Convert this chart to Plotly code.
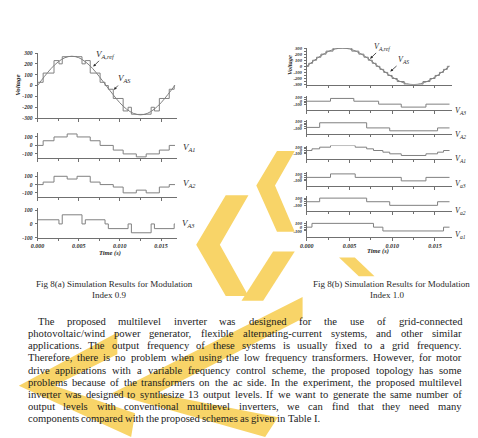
import plotly.graph_objects as go

W, H = 478, 438

# ---------------- data: Fig 8(a), modulation index 0.9 ----------------
ref_time_a = [0.0, 0.00083, 0.00167, 0.0025, 0.00333, 0.00417, 0.005, 0.00583, 0.00667, 0.0075, 0.00833,
              0.00917, 0.01, 0.01083, 0.01167, 0.0125, 0.01333, 0.01417, 0.015, 0.01583, 0.01667]
ref_volt_a = [0, 83, 159, 218, 257, 270, 257, 218, 159, 83, 0,
              -83, -159, -218, -257, -270, -257, -218, -159, -83, 0]
vas_time_a = [0, 0.00068, 0.0020, 0.0026, 0.0030, 0.0036, 0.0048, 0.0054, 0.0058, 0.0064, 0.0076, 0.0082,
              0.0086, 0.0092, 0.0104, 0.0110, 0.0114, 0.0120, 0.0132, 0.0138, 0.0142, 0.0148, 0.0160, 0.0166, 0.0167]
vas_volt_a = [30, 115, 230, 200, 266, 268, 266, 200, 230, 115, 30, 0,
              -34, -119, -234, -200, -264, -266, -264, -200, -234, -119, -34, 0, 0]
v12_time_a = [0, 0.00068, 0.0020, 0.0036, 0.0048, 0.0064, 0.0076, 0.0092, 0.0104, 0.0120, 0.0132, 0.0148, 0.0160, 0.0167]
va1_a = [0, 55, 100, 135, 100, 55, 0, -55, -100, -135, -100, -55, 0, 0]
va2_a = [0, 30, 100, 67, 100, 30, 0, -30, -100, -67, -100, -30, 0, 0]
v3_time_a = [0, 0.0026, 0.0030, 0.0054, 0.0058, 0.0082, 0.0086, 0.0110, 0.0114, 0.0138, 0.0142, 0.0166, 0.0167]
va3_a = [30, 0, 66, 0, 30, 0, -34, 0, -64, 0, -34, 0, 0]

# ---------------- data: Fig 8(b), modulation index 1.0 ----------------
ref_time_b = ref_time_a
ref_volt_b = [0, 93, 176, 243, 285, 300, 285, 243, 176, 93, 0,
              -93, -176, -243, -285, -300, -285, -243, -176, -93, 0]
vas_time_b = [0, 0.00022, 0.00067, 0.00114, 0.00165, 0.00225, 0.00307, 0.00526, 0.00608, 0.00668, 0.00719,
              0.00766, 0.00811, 0.00855, 0.0090, 0.00947, 0.00998, 0.01058, 0.0114, 0.01359, 0.01441, 0.01501,
              0.01552, 0.01599, 0.01644, 0.0167]
vas_volt_b = [0, 50, 100, 150, 200, 250, 300, 250, 200, 150, 100, 50, 0,
              -50, -100, -150, -200, -250, -300, -250, -200, -150, -100, -50, 0, 0]
vA3_time_b = [0, 0.00277, 0.0055, 0.0084, 0.01105, 0.01394, 0.0167]
vA3_b = [0, 80, 0, -85, -170, -85, -85]
vA2_time_b = [0, 0.0015, 0.0070, 0.0097, 0.0153, 0.0167]
vA2_b = [-70, 65, -85, -170, -85, -85]
vA1_time_b = [0, 0.0006, 0.0015, 0.00277, 0.00566, 0.0070, 0.0078, 0.0089, 0.0097, 0.01105, 0.01394, 0.0153, 0.0160, 0.0167]
vA1_b = [0, 50, 100, 150, 100, 50, 0, -50, -100, -150, -100, -50, 0, 0]
va3_time_b = [0, 0.00277, 0.00566, 0.01105, 0.01394, 0.0167]
va3_b = [0, 100, 0, -100, 0, 0]
va2_time_b = [0, 0.0015, 0.0070, 0.0097, 0.0153, 0.0167]
va2_b = [0, 100, 0, -100, 0, 0]
va1_time_b = [0, 0.0006, 0.0078, 0.0089, 0.0160, 0.0167]
va1_b = [0, 100, 0, -100, 0, 0]

x_tickvals = [0, 0.005, 0.010, 0.015]
x_ticktext = ["0.000", "0.005", "0.010", "0.015"]

caption_a = ["Fig 8(a) Simulation Results for Modulation", "Index 0.9"]
caption_b = ["Fig 8(b) Simulation Results for Modulation", "Index 1.0"]
paragraph = [
    "The proposed multilevel inverter was designed for the use of grid-connected",
    "photovoltaic/wind power generator, flexible alternating-current systems, and other similar",
    "applications. The output frequency of these systems is usually fixed to a grid frequency.",
    "Therefore, there is no problem when using the low frequency transformers. However, for motor",
    "drive applications with a variable frequency control scheme, the proposed topology has some",
    "problems because of the transformers on the ac side. In the experiment, the proposed multilevel",
    "inverter was designed to synthesize 13 output levels. If we want to generate the same number of",
    "output levels with conventional multilevel inverters, we can find that they need many",
    "components compared with the proposed schemes as given in Table I.",
]

# ---------------- styling ----------------
SERIF = "Liberation Serif, Times New Roman, serif"
LINE = "#808080"
AXC = "#707070"
TXT = "#2a2a2a"
YEL = "#F8D468"


def px(x):
    return x / W


def py(y):
    return 1 - y / H


tickfont = dict(family=SERIF, size=5.5, color=TXT, style="italic", weight="bold")
smallfont = dict(family=SERIF, size=4.6, color=TXT, style="italic", weight="bold")

XL = (31, 173)
XR = (304.3, 451.7)
XRANGE = [0, 0.0170]

panels = [
    dict(x=XL, y=(50.7, 116.7), yr=[-300, 300], yt=[-300, -200, -100, 0, 100, 200, 300], ym=None, bottom=False,
         f=tickfont, tr=[(ref_time_a, ref_volt_a, "spline"), (vas_time_a, vas_volt_a, "hv")]),
    dict(x=XL, y=(131.5, 157.3), yr=[-150, 150], yt=[-100, 0, 100], ym=None, bottom=False,
         f=tickfont, tr=[(v12_time_a, va1_a, "hv")]),
    dict(x=XL, y=(171.5, 196.7), yr=[-150, 150], yt=[-100, 0, 100], ym=None, bottom=False,
         f=tickfont, tr=[(v12_time_a, va2_a, "hv")]),
    dict(x=XL, y=(208.3, 238.0), yr=[-100, 112], yt=[-100, 0, 100], ym=None, bottom=True,
         f=tickfont, tr=[(v3_time_a, va3_a, "hv")]),
    dict(x=XR, y=(45.7, 82.7), yr=[-300, 300], yt=[-300, -200, -100, 0, 100, 200, 300],
         ym=[-250, -150, -50, 50, 150, 250], bottom=False, f=smallfont,
         tr=[(ref_time_b, ref_volt_b, "spline"), (vas_time_b, vas_volt_b, "hv")]),
    dict(x=XR, y=(94.3, 108.7), yr=[-260, 150], yt=[-100, 0, 100], ym=[-50, 50], bottom=False,
         f=smallfont, tr=[(vA3_time_b, vA3_b, "hv")]),
    dict(x=XR, y=(118.5, 132.7), yr=[-260, 150], yt=[-100, 0, 100], ym=[-50, 50], bottom=False,
         f=smallfont, tr=[(vA2_time_b, vA2_b, "hv")]),
    dict(x=XR, y=(144.5, 158.3), yr=[-260, 150], yt=[-100, 0, 100], ym=[-50, 50], bottom=False,
         f=smallfont, tr=[(vA1_time_b, vA1_b, "hv")]),
    dict(x=XR, y=(171.5, 186.0), yr=[-260, 150], yt=[-100, 0, 100], ym=[-50, 50], bottom=False,
         f=smallfont, tr=[(va3_time_b, va3_b, "hv")]),
    dict(x=XR, y=(196.0, 211.0), yr=[-260, 150], yt=[-100, 0, 100], ym=[-50, 50], bottom=False,
         f=smallfont, tr=[(va2_time_b, va2_b, "hv")]),
    dict(x=XR, y=(221.5, 237.3), yr=[-260, 150], yt=[-100, 0, 100], ym=[-50, 50], bottom=True,
         f=smallfont, tr=[(va1_time_b, va1_b, "hv")]),
]

fig = go.Figure()
layout = dict(width=W, height=H, margin=dict(l=0, r=0, t=0, b=0), paper_bgcolor="white",
              plot_bgcolor="rgba(0,0,0,0)", showlegend=False)

for i, p in enumerate(panels, start=1):
    sx = "" if i == 1 else str(i)
    xa = dict(domain=[px(p["x"][0]), px(p["x"][1])], range=XRANGE, anchor="y" + sx,
              showline=True, linecolor=AXC, linewidth=1, showgrid=False, zeroline=False,
              ticks="outside", ticklen=2.5, tickwidth=0.8, tickcolor=AXC,
              tickmode="array", tickvals=x_tickvals, ticktext=x_ticktext,
              showticklabels=p["bottom"], tickfont=dict(tickfont, size=6),
              minor=dict(tickmode="array", tickvals=[0.0025, 0.0075, 0.0125], ticks="outside",
                         ticklen=2, tickcolor=AXC, tickwidth=0.8))
    ya = dict(domain=[py(p["y"][1]), py(p["y"][0])], range=p["yr"], anchor="x" + sx,
              showline=True, linecolor=AXC, linewidth=1, showgrid=False, zeroline=False,
              ticks="outside", ticklen=2, tickwidth=0.8, tickcolor=AXC,
              tickmode="array", tickvals=p["yt"], ticktext=[str(v) for v in p["yt"]],
              tickfont=p["f"], ticklabelstandoff=1)
    if p["ym"]:
        ya["minor"] = dict(tickmode="array", tickvals=p["ym"], ticks="outside", ticklen=1.5,
                           tickcolor=AXC, tickwidth=0.8)
    layout["xaxis" + sx] = xa
    layout["yaxis" + sx] = ya
    for (tx, ty, shp) in p["tr"]:
        fig.add_trace(go.Scatter(x=tx, y=ty, mode="lines", xaxis="x" + sx, yaxis="y" + sx,
                                 line=dict(color=LINE, width=1, shape=shp), hoverinfo="skip"))

ann = []


def label(x, y, text, size=8, **kw):
    d = dict(xref="paper", yref="paper", x=px(x), y=py(y), text=text, showarrow=False,
             font=dict(family=SERIF, size=size, color=TXT), xanchor="center", yanchor="middle", borderpad=0)
    d.update(kw)
    ann.append(d)


bi = dict(style="italic", weight="bold")
# axis titles
label(11.7, 83.3, "Voltage", textangle=-90, font=dict(family=SERIF, size=7, color=TXT, **bi))
label(286.7, 63.3, "Voltage", textangle=-90, font=dict(family=SERIF, size=6.5, color=TXT, **bi))
label(104.3, 253.3, "Time (s)", font=dict(family=SERIF, size=6.5, color=TXT, **bi))
label(376.7, 251.7, "Time (s)", font=dict(family=SERIF, size=6.5, color=TXT, **bi))


def vname(main, sub):
    return f"<i>{main}</i><sub><i>{sub}</i></sub>"


# series labels
for (x, y, s) in [(185, 147, "A1"), (185, 183, "A2"), (184, 224, "A3")]:
    label(x, y, vname("V", s), size=9)
for (x, y, s) in [(460, 109, "A3"), (460, 134, "A2"), (460, 158.5, "A1"),
                  (460, 183.5, "a3"), (460, 211, "a2"), (460, 235, "a1")]:
    label(x, y, vname("V", s), size=8)

# arrow labels
for (hx, hy, tx, ty, sub, sz) in [(87.5, 64.5, 100, 52, "A,ref", 9), (108.5, 88, 119, 77, "AS", 9),
                                 (368.5, 56.5, 381, 44.5, "A,ref", 8), (389, 69.5, 402, 58, "AS", 8)]:
    ann.append(dict(xref="paper", yref="paper", x=px(hx), y=py(hy), ax=tx - hx, ay=ty - hy,
                    text=vname("V", sub), showarrow=True, arrowhead=2, arrowsize=0.7, arrowwidth=0.8,
                    arrowcolor=TXT, standoff=0, startstandoff=1,
                    font=dict(family=SERIF, size=sz, color=TXT), borderpad=0))

# captions
label(109.5, 285, caption_a[0], size=9)
label(104, 296, caption_a[1], size=9)
label(390, 285, caption_b[0], size=9)
label(385.7, 296, caption_b[1], size=9)

# justified paragraph
TW = {' ': 250, 'a': 444, 'b': 500, 'c': 444, 'd': 500, 'e': 444, 'f': 333, 'g': 500, 'h': 500, 'i': 278,
      'j': 278, 'k': 500, 'l': 278, 'm': 778, 'n': 500, 'o': 500, 'p': 500, 'q': 500, 'r': 333, 's': 389,
      't': 278, 'u': 500, 'v': 500, 'w': 722, 'x': 500, 'y': 500, 'z': 444, 'A': 722, 'B': 667, 'C': 667,
      'D': 722, 'E': 611, 'F': 556, 'G': 722, 'H': 722, 'I': 333, 'J': 389, 'K': 722, 'L': 611, 'M': 889,
      'N': 722, 'O': 722, 'P': 556, 'Q': 722, 'R': 667, 'S': 556, 'T': 611, 'U': 722, 'V': 722, 'W': 944,
      'X': 722, 'Y': 722, 'Z': 611, '.': 250, ',': 250, '/': 278, '-': 333, '(': 333, ')': 333}
PFS = 10.6


def tw(s):
    return sum(TW.get(c, 500) for c in s) * PFS / 1000


for li, line in enumerate(paragraph):
    yline = 323.3 + li * 12.2
    left = 30 if li == 0 else 20
    words = line.split()
    if li < len(paragraph) - 1:
        gap = (460 - left - sum(tw(w) for w in words)) / (len(words) - 1)
    else:
        gap = TW[' '] * PFS / 1000
    xpos = left
    for w in words:
        ann.append(dict(xref="paper", yref="paper", x=px(xpos), y=py(yline), text=w, showarrow=False,
                        xanchor="left", yanchor="middle", borderpad=0,
                        font=dict(family=SERIF, size=PFS, color="#1c1c1c")))
        xpos += tw(w) + gap

layout["annotations"] = ann


# watermark: chevron-shaped yellow logo behind the page
def poly(pts):
    return "M " + " L ".join(f"{px(a):.4f},{py(b):.4f}" for a, b in pts) + " Z"


wm = [
    [(245, 195), (222, 195), (192, 245), (222, 297), (245, 297), (216, 245)],
    [(292, 150), (274, 150), (253, 185), (274, 232), (292, 232), (272, 185)],
    [(292, 252), (270, 252), (238, 302), (260, 302)],
    [(337, 258), (353, 258), (373, 277), (357, 277)],
    [(300, 298), (106, 396), (262, 440), (275, 420), (152, 396), (300, 320)],
    [(112, 334), (12, 388), (126, 440), (130, 416), (48, 388), (112, 356)],
]
layout["shapes"] = [dict(type="path", xref="paper", yref="paper", path=poly(p), fillcolor=YEL,
                         line=dict(width=0), layer="below") for p in wm]

fig.update_layout(**layout)
fig.write_html("out.html")
